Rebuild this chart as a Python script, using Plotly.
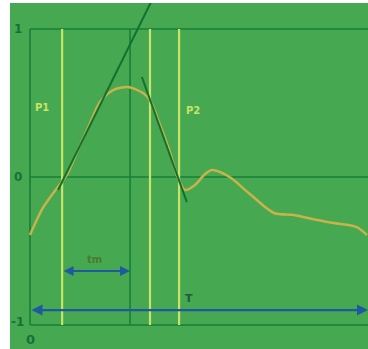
import plotly.graph_objects as go

# waveform (x normalised to the period T, y in the -1..1 scale)
wave_x = [0.000, 0.038, 0.080, 0.109, 0.142, 0.178, 0.207, 0.246, 0.290, 0.334, 0.355,
          0.385, 0.414, 0.438, 0.459, 0.488, 0.518, 0.538, 0.562, 0.595, 0.654, 0.722,
          0.781, 0.849, 0.899, 0.967, 0.997]
wave_y = [-0.392, -0.209, -0.074, 0.014, 0.182, 0.365, 0.507, 0.588, 0.608, 0.568, 0.520,
          0.351, 0.169, -0.007, -0.088, -0.054, 0.020, 0.047, 0.034, -0.007, -0.122, -0.243,
          -0.257, -0.291, -0.311, -0.338, -0.392]

# tangents
tan1_x = [0.083, 0.361]
tan1_y = [-0.088, 1.196]
tan2_x = [0.331, 0.464]
tan2_y = [0.676, -0.169]

# markers
p1_x = 0.095
tm_end_x = 0.296
mid_x = 0.355
p2_x = 0.441
tm_y = -0.635
T_y = -0.899

y_ticks = [1, 0, -1]
y_tick_labels = ["1", "0", "-1"]

BG = "#46a850"
DARK = "#17803a"
LIGHT = "#c8e36a"
WAVE = "#c9b24a"
BLUE = "#1f5aa0"

fig = go.Figure()

# frame lines
for yv in y_ticks:
    fig.add_trace(go.Scatter(x=[0, 1.0], y=[yv, yv], mode="lines",
                             line=dict(color=DARK, width=1.6), hoverinfo="skip"))
fig.add_trace(go.Scatter(x=[0, 0], y=[-1, 1], mode="lines",
                         line=dict(color=DARK, width=1.6), hoverinfo="skip"))
fig.add_trace(go.Scatter(x=[tm_end_x, tm_end_x], y=[-1, 1], mode="lines",
                         line=dict(color=DARK, width=1.6), hoverinfo="skip"))
for xv in [p1_x, mid_x, p2_x]:
    fig.add_trace(go.Scatter(x=[xv, xv], y=[-1, 1], mode="lines",
                             line=dict(color=LIGHT, width=2.2), hoverinfo="skip"))

# waveform
fig.add_trace(go.Scatter(x=wave_x, y=wave_y, mode="lines",
                         line=dict(color=WAVE, width=2.5, shape="spline", smoothing=0.8),
                         hoverinfo="skip"))
# tangents
fig.add_trace(go.Scatter(x=tan1_x, y=tan1_y, mode="lines",
                         line=dict(color="#127030", width=2), hoverinfo="skip"))
fig.add_trace(go.Scatter(x=tan2_x, y=tan2_y, mode="lines",
                         line=dict(color="#127030", width=2), hoverinfo="skip"))

# arrows
fig.add_annotation(x=tm_end_x, y=tm_y, ax=p1_x, ay=tm_y, xref="x", yref="y",
                   axref="x", ayref="y", showarrow=True, arrowhead=2, arrowside="end+start",
                   arrowsize=1, arrowwidth=2, arrowcolor=BLUE, text="")
fig.add_annotation(x=1.0, y=T_y, ax=0.0, ay=T_y, xref="x", yref="y",
                   axref="x", ayref="y", showarrow=True, arrowhead=2, arrowside="end+start",
                   arrowsize=1, arrowwidth=2.2, arrowcolor=BLUE, text="")

# labels
fig.add_annotation(x=0.192, y=-0.56, text="<b>tm</b>", showarrow=False,
                   font=dict(color="#4a7a30", size=10, family="DejaVu Sans"))
fig.add_annotation(x=0.470, y=-0.82, text="<b>T</b>", showarrow=False,
                   font=dict(color="#1d5a45", size=11, family="DejaVu Sans"))
fig.add_annotation(x=0.036, y=0.473, text="<b>P1</b>", showarrow=False,
                   font=dict(color=LIGHT, size=10, family="DejaVu Sans"))
fig.add_annotation(x=0.482, y=0.453, text="<b>P2</b>", showarrow=False,
                   font=dict(color=LIGHT, size=10, family="DejaVu Sans"))
for yv, lab in zip(y_ticks, y_tick_labels):
    fig.add_annotation(x=-0.036, y=yv if yv != -1 else -0.98, text="<b>" + lab + "</b>",
                       showarrow=False,
                       font=dict(color="#17703a", size=12, family="DejaVu Sans"))
fig.add_annotation(x=0.0, y=-1.10, text="<b>0</b>", showarrow=False,
                   font=dict(color="#17703a", size=13, family="DejaVu Sans"))

fig.update_layout(
    width=368, height=349,
    margin=dict(l=10, r=0, t=3, b=0),
    paper_bgcolor="white", plot_bgcolor=BG,
    showlegend=False,
    xaxis=dict(range=[-0.0592, 1.0], visible=False, fixedrange=True),
    yaxis=dict(range=[-1.162, 1.176], visible=False, fixedrange=True),
)

fig.write_html("out.html", config={"displayModeBar": False},
               post_script="document.body.style.margin='0';document.body.style.overflow='hidden';")
